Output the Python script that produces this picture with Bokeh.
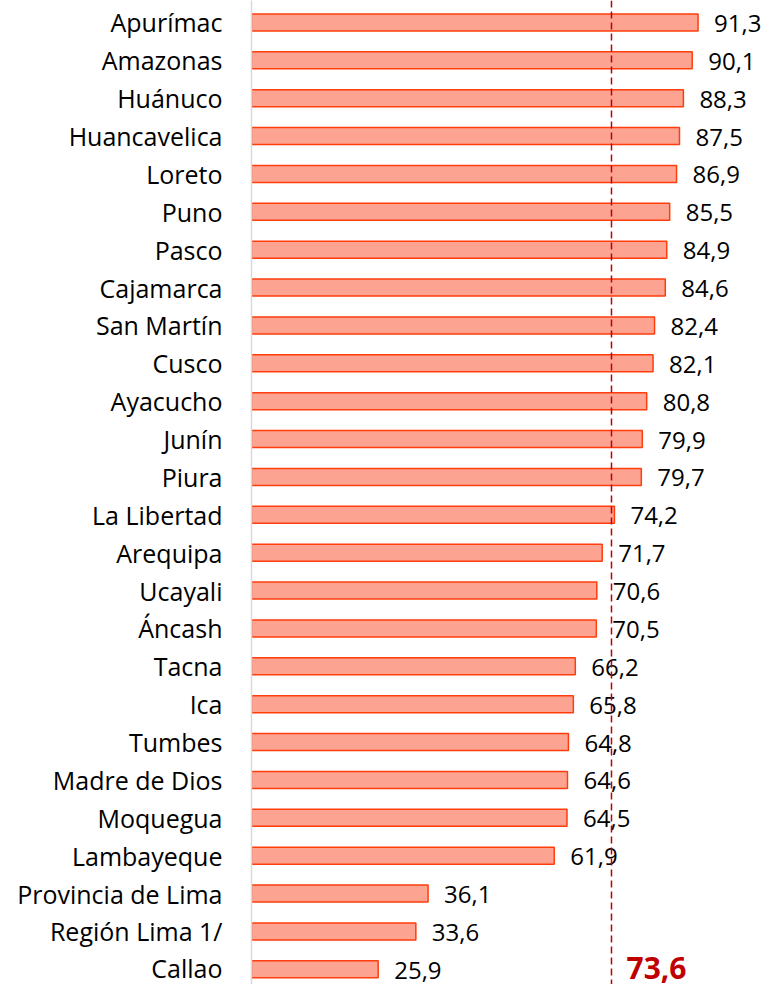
from bokeh.plotting import figure
from bokeh.models import ColumnDataSource, Range1d, FixedTicker, Span
from bokeh.core.properties import value
from bokeh.embed import file_html
from bokeh.resources import INLINE

categories = ["Apurímac", "Amazonas", "Huánuco", "Huancavelica", "Loreto", "Puno",
              "Pasco", "Cajamarca", "San Martín", "Cusco", "Ayacucho", "Junín",
              "Piura", "La Libertad", "Arequipa", "Ucayali", "Áncash", "Tacna",
              "Ica", "Tumbes", "Madre de Dios", "Moquegua", "Lambayeque",
              "Provincia de Lima", "Región Lima 1/", "Callao"]
values = [91.3, 90.1, 88.3, 87.5, 86.9, 85.5, 84.9, 84.6, 82.4, 82.1, 80.8, 79.9,
          79.7, 74.2, 71.7, 70.6, 70.5, 66.2, 65.8, 64.8, 64.6, 64.5, 61.9,
          36.1, 33.6, 25.9]
national_value = 73.6

n = len(categories)
ypos = [n - 1 - i for i in range(n)]
labels = [f"{v:.1f}".replace(".", ",") for v in values]

src = ColumnDataSource(dict(y=ypos, v=values, lab=labels))

FONT = "Open Sans"

p = figure(width=768, height=984, output_backend="svg", toolbar_location=None,
           x_axis_location=None, y_axis_location="left",
           x_range=Range1d(0, 105.7), y_range=Range1d(-0.40, 25.58),
           min_border_left=251, min_border_right=0, min_border_top=0, min_border_bottom=0)
p.outline_line_color = None
p.xgrid.visible = False
p.ygrid.visible = False
p.background_fill_color = "white"

p.hbar(y="y", left=0, right="v", height=0.45, source=src,
       fill_color="#FDA391", line_color="#FF3D0D", line_width=1.5)

p.text(x="v", y="y", text="lab", source=src, x_offset=16, y_offset=1,
       text_align="left", text_baseline="middle",
       text_font=value(FONT), text_font_size="24px", text_color="black")

p.add_layout(Span(location=national_value, dimension="height",
                  line_color="#C00000", line_width=1.5, line_dash="7 4"))

p.text(x=[national_value], y=[0], text=[f"{national_value:.1f}".replace(".", ",")],
       x_offset=15, y_offset=-1, text_align="left", text_baseline="middle",
       text_font=value(FONT), text_font_size="30px", text_font_style="bold",
       text_color="#C00000")

ax = p.yaxis[0]
ax.ticker = FixedTicker(ticks=ypos)
ax.major_label_overrides = {y: c for y, c in zip(ypos, categories)}
ax.axis_line_color = "#D9D9D9"
ax.axis_line_width = 1.5
ax.major_tick_line_color = None
ax.minor_tick_line_color = None
ax.major_label_standoff = 23
ax.major_label_text_font = FONT
ax.major_label_text_font_size = "25px"
ax.major_label_text_color = "black"

open("out.html", "w").write(file_html(p, INLINE))
